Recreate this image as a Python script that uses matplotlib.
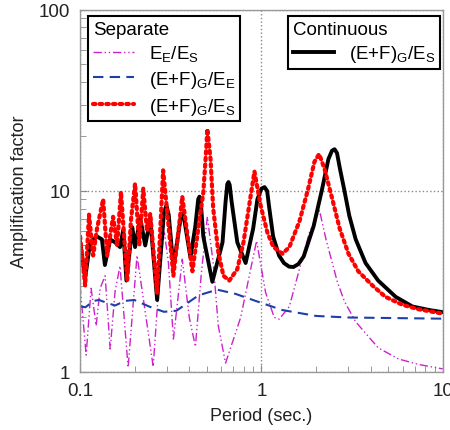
import matplotlib
matplotlib.use("Agg")
import matplotlib.pyplot as plt
from matplotlib.ticker import LogLocator, NullFormatter, FixedLocator, FixedFormatter

plt.rcParams['font.family'] = ['Liberation Sans', 'DejaVu Sans']
plt.rcParams['mathtext.fontset'] = 'custom'
plt.rcParams['mathtext.rm'] = 'Liberation Sans'
plt.rcParams['mathtext.it'] = 'Liberation Sans'

# Continuous (E+F)_G/E_S
cont_T = [0.100, 0.1066, 0.1136, 0.124, 0.132, 0.137, 0.1465, 0.156, 0.166, 0.173, 0.180,
          0.194, 0.201, 0.2145, 0.2286, 0.2437, 0.266, 0.29, 0.299, 0.308, 0.327, 0.36, 0.366,
          0.373, 0.406, 0.432, 0.448, 0.455, 0.462, 0.478, 0.536, 0.61, 0.634, 0.648, 0.658,
          0.668, 0.685, 0.736, 0.818, 0.90, 0.95, 1.0, 1.04, 1.075, 1.10, 1.16, 1.25, 1.33,
          1.42, 1.50, 1.60, 1.71, 1.94, 2.16, 2.34, 2.45, 2.53, 2.61, 2.70, 2.87, 3.05,
          3.31, 3.75, 4.4, 5.5, 6.8, 8.4, 10.0]
cont_A = [5.2, 3.3, 5.2, 5.6, 5.4, 3.9, 5.4, 5.2, 4.9, 6.1, 3.2,
          6.3, 4.9, 7.1, 5.0, 7.0, 2.5, 7.6, 8.3, 7.4, 3.8, 7.3, 7.5,
          7.2, 4.3, 6.4, 9.0, 9.3, 8.9, 5.6, 3.15, 5.2, 8.7, 10.9, 11.2,
          10.8, 8.7, 5.2, 4.0, 6.2, 9.0, 10.3, 10.5, 10.0, 8.3, 5.6, 4.4, 4.0,
          3.82, 3.8, 3.95, 4.35, 6.4, 10.25, 15.0, 16.7, 17.0, 16.2, 13.5, 10.0, 7.3,
          5.4, 4.0, 3.2, 2.6, 2.3, 2.2, 2.14]

# Separate (E+F)_G/E_S
sep_gs_T = [0.100, 0.1066, 0.112, 0.118, 0.124, 0.134, 0.141, 0.152, 0.160, 0.168, 0.182,
            0.191, 0.201, 0.212, 0.223, 0.234, 0.2437, 0.266, 0.287, 0.327, 0.366, 0.416,
            0.478, 0.496, 0.503, 0.524, 0.542, 0.578, 0.617, 0.665, 0.736, 0.796, 0.872,
            0.915, 0.99, 1.078, 1.164, 1.305, 1.425, 1.62, 1.81, 1.96, 2.08, 2.23, 2.46,
            2.70, 3.02, 3.42, 4.10, 4.83, 6.0, 7.37, 10.0]
sep_gs_A = [5.6, 3.0, 7.4, 4.4, 6.2, 9.0, 4.4, 7.2, 5.0, 9.9, 3.2,
            7.0, 11.0, 5.0, 10.3, 6.0, 7.5, 2.7, 13.0, 3.4, 9.3, 3.6,
            9.8, 17.0, 22.0, 15.0, 8.0, 4.6, 3.4, 3.2, 3.7, 5.2, 9.4,
            12.8, 8.3, 5.9, 4.9, 4.5, 4.9, 6.8, 10.3, 14.5, 16.0, 13.2, 9.0,
            6.2, 4.5, 3.6, 3.0, 2.6, 2.35, 2.22, 2.1]

# Separate (E+F)_G/E_E
sep_ge_T = [0.100, 0.107, 0.119, 0.127, 0.142, 0.156, 0.177, 0.199, 0.24, 0.29, 0.34,
            0.39, 0.45, 0.57, 0.72, 0.95, 1.3, 2.0, 3.0, 10.0]
sep_ge_A = [2.30, 2.28, 2.47, 2.50, 2.40, 2.33, 2.47, 2.50, 2.30, 2.15, 2.18,
            2.40, 2.65, 2.85, 2.70, 2.45, 2.2, 2.04, 2.0, 1.97]

# Separate E_E/E_S
sep_es_T = [0.100, 0.108, 0.115, 0.1226, 0.129, 0.1374, 0.1465, 0.156, 0.166, 0.184, 0.206,
            0.253, 0.277, 0.291, 0.307, 0.327, 0.366, 0.40, 0.4325, 0.466, 0.503, 0.542,
            0.578, 0.634, 0.768, 0.872, 0.94, 1.054, 1.177, 1.254, 1.425, 1.62, 1.84,
            2.09, 2.27, 2.62, 2.87, 3.3, 4.4, 5.7, 7.37, 10.0]
sep_es_A = [3.0, 1.24, 2.9, 1.8, 2.9, 3.4, 1.34, 2.8, 3.85, 1.06, 4.4,
            1.07, 4.0, 6.0, 4.0, 1.52, 4.2, 2.0, 1.38, 3.5, 7.2, 4.0,
            1.8, 1.12, 2.0, 3.7, 5.3, 2.75, 2.0, 1.96, 2.3, 3.7, 5.9,
            7.8, 5.4, 3.15, 2.45, 1.9, 1.36, 1.18, 1.1, 1.04]

fig = plt.figure(figsize=(4.5, 4.31), dpi=100)
ax = fig.add_axes([0.178, 0.1346, 0.806, 0.84])

l1, = ax.plot(sep_es_T, sep_es_A, color='#cc22cc', lw=1.0, ls=(0, (6, 2, 1, 2, 1, 2)))
l2, = ax.plot(sep_ge_T, sep_ge_A, color='#1f3fa8', lw=1.5, ls=(0, (5, 3)))
l4, = ax.plot(cont_T, cont_A, color='black', lw=2.8, solid_joinstyle='round')
l3, = ax.plot(sep_gs_T, sep_gs_A, color='#ff0000', lw=3.0, ls=(0, (0.6, 1.0)),
              dash_capstyle='round')

ax.set_xscale('log')
ax.set_yscale('log')
ax.set_xlim(0.1, 10)
ax.set_ylim(1, 100)

ax.xaxis.set_major_locator(FixedLocator([0.1, 1, 10]))
ax.xaxis.set_major_formatter(FixedFormatter(['0.1', '1', '10']))
ax.yaxis.set_major_locator(FixedLocator([1, 10, 100]))
ax.yaxis.set_major_formatter(FixedFormatter(['1', '10', '100']))
ax.xaxis.set_minor_locator(LogLocator(base=10, subs=range(2, 10)))
ax.yaxis.set_minor_locator(LogLocator(base=10, subs=range(2, 10)))
ax.xaxis.set_minor_formatter(NullFormatter())
ax.yaxis.set_minor_formatter(NullFormatter())

ax.tick_params(which='both', direction='in', color='#888888', labelsize=13.5,
               labelcolor='#222222', top=False, right=False)
ax.tick_params(which='major', length=5, pad=7)
ax.tick_params(which='minor', length=4)
for s in ax.spines.values():
    s.set_color('#999999')
    s.set_linewidth(1.0)

ax.grid(which='major', ls=':', color='#888888', lw=1.0)

ax.set_xlabel('Period (sec.)', fontsize=13, color='#222222', labelpad=6)
ax.set_ylabel('Amplification factor', fontsize=13, color='#222222', labelpad=8)

leg1 = ax.legend([l1, l2, l3],
                 [r'E$_\mathrm{E}$/E$_\mathrm{S}$', r'(E+F)$_\mathrm{G}$/E$_\mathrm{E}$',
                  r'(E+F)$_\mathrm{G}$/E$_\mathrm{S}$'],
                 title='Separate', loc='upper left', bbox_to_anchor=(0.022, 0.983),
                 fontsize=13.5, title_fontsize=13.5, alignment='left', fancybox=False,
                 framealpha=1, edgecolor='black', handlelength=2.2, borderpad=0.25,
                 labelspacing=0.3, handletextpad=0.8, borderaxespad=0)
leg1.get_frame().set_linewidth(1.5)
ax.add_artist(leg1)

leg2 = ax.legend([l4], [r'(E+F)$_\mathrm{G}$/E$_\mathrm{S}$'], title='Continuous',
                 loc='upper right', bbox_to_anchor=(0.993, 0.983), fontsize=13.5,
                 title_fontsize=13.5, alignment='left', fancybox=False, framealpha=1,
                 edgecolor='black', handlelength=2.2, borderpad=0.25, labelspacing=0.3,
                 handletextpad=0.8, borderaxespad=0)
leg2.get_frame().set_linewidth(1.5)

fig.savefig('out.png', dpi=100)
